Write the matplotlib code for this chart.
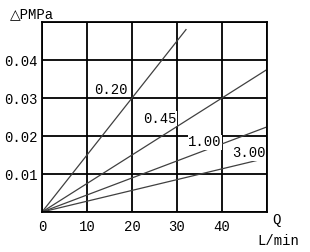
import matplotlib
matplotlib.use("Agg")
import matplotlib.pyplot as plt

# curve labels and their end points (Q in L/min, dP in MPa)
names = ["0.20", "0.45", "1.00", "3.00"]
q_end = [32, 50, 50, 50]
dp_end = [0.048, 0.0375, 0.0224, 0.0142]
# where each curve label sits
lab_q = [15.2, 26.2, 36.2, 46.0]
lab_dp = [0.0321, 0.0245, 0.0183, 0.0155]

xticks = [0, 10, 20, 30, 40, 50]
xlabels = ["0", "10", "20", "30", "40", ""]
yticks = [0, 0.01, 0.02, 0.03, 0.04, 0.05]
ylabels = ["", "0.01", "0.02", "0.03", "0.04", ""]

plt.rcParams['font.family'] = ['Liberation Mono', 'DejaVu Sans']
fs = 10

fig = plt.figure(figsize=(3.1, 2.52), dpi=100)
ax = fig.add_axes([42/310, 40/252, 225/310, 190/252])

for n, qe, de in zip(names, q_end, dp_end):
    ax.plot([0, qe], [0, de], color="#404040", lw=0.9)
for n, x, y in zip(names, lab_q, lab_dp):
    ax.text(x, y, n, ha="center", va="center", fontsize=fs,
            bbox=dict(facecolor="white", edgecolor="none", pad=0.3))

ax.set_xlim(0, 50)
ax.set_ylim(0, 0.05)
ax.set_xticks(xticks, xlabels, fontsize=fs)
ax.set_yticks(yticks, ylabels, fontsize=fs)
ax.tick_params(axis="x", length=0, pad=6)
ax.tick_params(axis="y", length=0, pad=3)
ax.grid(True, color="black", lw=1.3)
ax.set_axisbelow(True)
for s in ax.spines.values():
    s.set_linewidth(1.3)

fig.text(10/310, 1 - 14/252, "△PMPa", fontsize=fs, va="center", ha="left")
fig.text(276/310, 1 - 220/252, "Q", fontsize=fs, va="center", ha="center")
fig.text(278/310, 1 - 241/252, "L/min", fontsize=fs, va="center", ha="center")

plt.savefig("out.png")
